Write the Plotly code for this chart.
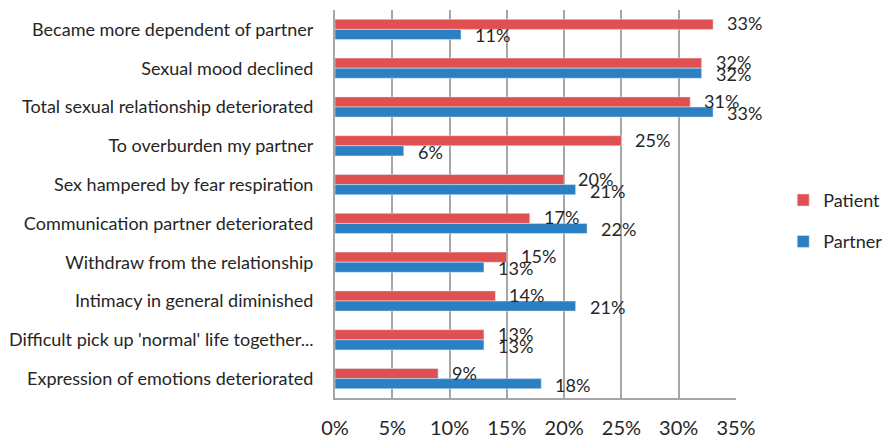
import plotly.graph_objects as go

categories = [
    "Became more dependent of partner",
    "Sexual mood declined",
    "Total sexual relationship deteriorated",
    "To overburden my partner",
    "Sex hampered by fear respiration",
    "Communication partner deteriorated",
    "Withdraw from the relationship",
    "Intimacy in general diminished",
    "Difficult pick up 'normal' life together...",
    "Expression of emotions deteriorated",
]
patient = [33, 32, 31, 25, 20, 17, 15, 14, 13, 9]
partner = [11, 32, 33, 6, 21, 22, 13, 21, 13, 18]
tick_vals = [0, 5, 10, 15, 20, 25, 30, 35]
tick_text = ["0%", "5%", "10%", "15%", "20%", "25%", "30%", "35%"]

RED = "#E05050"
BLUE = "#2A80C2"
FONT = "Lato, Open Sans, sans-serif"
TXT = "#262626"

fig = go.Figure()
fig.add_trace(go.Bar(y=categories, x=patient, orientation="h", name="Patient",
                     legendgroup="a", marker=dict(color=RED)))
fig.add_trace(go.Bar(y=categories, x=partner, orientation="h", name="Partner",
                     legendgroup="b", marker=dict(color=BLUE)))

# value labels, offset a little right of each bar end
for i, (p, q) in enumerate(zip(patient, partner)):
    fig.add_annotation(x=p, y=i, text=f"{p}%", xref="x", yref="y", showarrow=False,
                       xanchor="left", yanchor="middle", xshift=12, yshift=6,
                       font=dict(family=FONT, size=18, color=TXT))
    fig.add_annotation(x=q, y=i, text=f"{q}%", xref="x", yref="y", showarrow=False,
                       xanchor="left", yanchor="middle", xshift=12, yshift=-6,
                       font=dict(family=FONT, size=18, color=TXT))

fig.update_layout(
    width=885, height=439,
    margin=dict(l=335, r=149, t=10, b=41, autoexpand=False),
    paper_bgcolor="white", plot_bgcolor="white",
    barmode="group", bargap=0.48, bargroupgap=0,
    font=dict(family=FONT, color=TXT),
    legend=dict(xref="container", yref="container", x=0.885, y=0.497,
                xanchor="left", yanchor="middle",
                font=dict(size=18, color=TXT), tracegroupgap=15,
                itemwidth=30, bgcolor="rgba(0,0,0,0)"),
    showlegend=True,
)
fig.update_xaxes(range=[0, 35], tickvals=tick_vals, ticktext=tick_text,
                 showgrid=True, gridcolor="#A6A6A6", gridwidth=2,
                 showline=True, linecolor="#A6A6A6", linewidth=2,
                 zeroline=False, ticks="", ticklabelstandoff=11, automargin=False,
                 tickfont=dict(size=20, color=TXT), fixedrange=True)
fig.update_yaxes(autorange="reversed", showgrid=False,
                 showline=True, linecolor="#A6A6A6", linewidth=2,
                 ticks="", ticklabelstandoff=16, automargin=False,
                 tickfont=dict(size=18, color=TXT), fixedrange=True)

fig.write_html(
    "out.html",
    config={"displayModeBar": False, "staticPlot": True},
    post_script="document.body.style.margin='0';document.body.style.overflow='hidden';",
)
